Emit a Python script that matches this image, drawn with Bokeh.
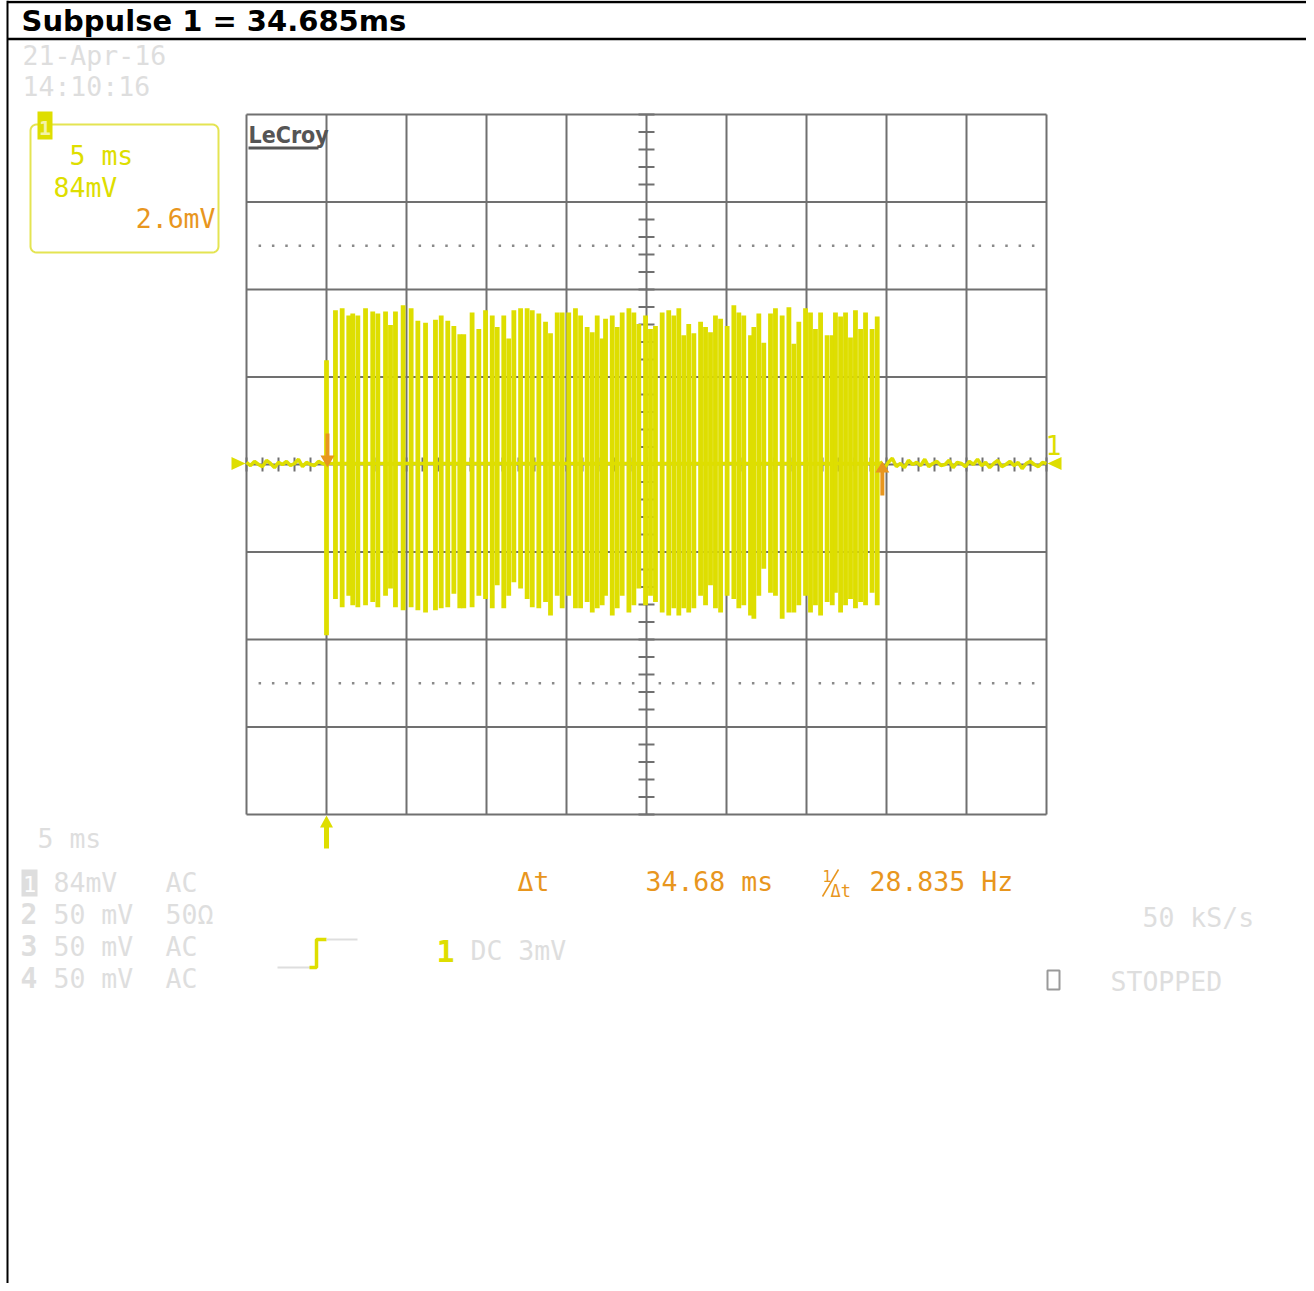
import numpy as np
from bokeh.plotting import figure
from bokeh.models import Range1d
from bokeh.core.properties import value
from bokeh.embed import file_html
from bokeh.resources import INLINE

# ---------------- labels ----------------
title_text = "Subpulse 1 = 34.685ms"
date_text = "21-Apr-16"
time_text = "14:10:16"
timebase_text = "5 ms"
ch1_scale_text = "84mV"
ch1_offset_text = "2.6mV"
chan_numbers = ["2", "3", "4"]
chan_scales = ["84mV", "50 mV", "50 mV", "50 mV"]
chan_coupling = ["AC", "50Ω", "AC", "AC"]
delta_t_label = "Δt"
delta_t_text = "34.68 ms"
freq_text = "28.835 Hz"
trig_source = "1"
trig_text = "DC 3mV"
rate_text = "50 kS/s"
status_text = "STOPPED"

# ---------------- grid: 5 ms/div, 84 mV/div ----------------
grid_t = [-5, 0, 5, 10, 15, 20, 25, 30, 35, 40, 45]
grid_v = [-336, -252, -168, -84, 0, 84, 168, 252, 336]
marker_v = [210, -210]

# ---------------- waveform (ms, mV) ----------------
burst_t = [0.0, 0.56, 0.98, 1.39, 1.64, 1.96, 2.44, 2.89, 3.21, 3.69, 4.0, 4.31, 4.79, 5.29, 5.71,
           6.19, 6.81, 7.17, 7.58, 7.96, 8.33,
           8.58, 9.1, 9.52, 9.94, 10.36, 10.67, 11.08, 11.39, 11.71, 12.13, 12.54, 12.86, 13.27,
           13.69, 14.0, 14.42, 14.73, 15.14, 15.56, 15.88, 16.29, 16.61, 16.92, 17.23,
           17.44, 17.86, 18.17, 18.48, 18.9, 19.21, 19.52, 19.94, 20.25, 20.56, 20.98, 21.39,
           21.71, 22.02, 22.33, 22.64, 22.96, 23.38, 23.69, 24.0, 24.31, 24.63, 25.04, 25.46,
           25.77, 26.08,
           26.5, 26.71, 27.02, 27.33, 27.75, 28.06, 28.48, 28.9, 29.21, 29.52, 29.94, 30.25,
           30.56, 30.88, 31.29, 31.61, 31.81, 32.13, 32.44, 32.75, 33.06, 33.38, 33.69, 34.1, 34.42]
burst_top = [100, 148, 150, 143, 145, 143, 150, 147, 145, 147, 134, 147, 153, 150, 138,
             136, 139, 143, 138, 133, 125,
             125, 146, 130, 148, 143, 132, 143, 121, 148, 150, 150, 148, 145,
             137, 126, 146, 146, 146, 150, 143, 132, 127, 143, 121,
             140, 143, 132, 146, 150, 146, 135, 143, 130, 133, 146, 148,
             143, 150, 124, 135, 126, 137, 132, 127, 143, 140, 133, 153,
             146, 143,
             124, 132, 145, 117, 145, 150, 143, 151, 116, 137, 150, 146,
             130, 146, 124, 124, 146, 142, 146, 122, 148, 130, 146, 130, 142]
burst_bot = [-164, -129, -137, -126, -135, -137, -135, -132, -137, -126, -119, -137, -140, -137, -140,
             -142, -140, -138, -137, -124, -138,
             -138, -137, -126, -129, -138, -116, -138, -126, -113, -119, -129, -137, -138,
             -132, -145, -126, -138, -126, -138, -138, -132, -142, -138, -135,
             -126, -145, -138, -126, -142, -135, -119, -135, -126, -132, -142, -145,
             -138, -145, -138, -142, -138, -126, -135, -116, -138, -142, -126, -129,
             -138, -135,
             -145, -148, -126, -100, -123, -126, -148, -142, -142, -135, -126, -142,
             -135, -145, -132, -135, -123, -142, -135, -129, -138, -132, -135, -123, -135]
pre_noise = [2, -1, 3, 0, -2, 4, 1, -3, 2, 0, 3, -1, 1, 5, -2, 2, 0, -1, 3, 1, 0]
post_noise = [3, -4, 2, 6, -2, 1, -3, 4, 0, 2, -1, 5, -2, 1, 3, -1, 0, 4, -3, 2, 1,
              -2, 3, 0, 5, -1, 2, -3, 1, 4, -2, 0, 3, -1, 2, -4, 1, 3, 0, -2, 2, 1]
trigger_t = 0.0
cursor1_t = 0.06
cursor2_t = 34.74
burst_end_t = 34.6

# ---------------- colours ----------------
YEL = "#dede00"
YEL_BOX = "#e4e452"
ORANGE = "#e8961e"
LGRAY = "#dedede"
GRID = "#707070"
LOGO = "#555555"
MONO = "DejaVu Sans Mono"

# ---------------- page geometry ----------------
W, H = 1306, 1283
GX0, PX_PER_MS = 246.0, 16.0
GY0, PX_PER_MV = 464.0, 87.5 / 84.0


def tx(px):
    return (px - GX0) / PX_PER_MS - 5.0


def vy(py):
    return (GY0 - py) / PX_PER_MV


def dms(px):
    return px / PX_PER_MS


def dmv(px):
    return px / PX_PER_MV


p = figure(width=W, height=H, output_backend="svg", toolbar_location=None, title=None,
           x_range=Range1d(tx(0), tx(W)), y_range=Range1d(vy(H), vy(0)),
           x_axis_location=None, y_axis_location=None, min_border=0,
           outline_line_color=None, background_fill_color="white", border_fill_color="white")
p.xgrid.visible = False
p.ygrid.visible = False


# ---------------- text helpers ----------------
def txt(px, pybase, s, color, size=26.5, align="left", font=MONO, style="normal"):
    # baseline correction for the SVG text placement
    yb = pybase - 0.38 * size
    p.text(x=[tx(px)], y=[vy(yb)], text=[s], text_color=color, text_font=value(font),
           text_font_size=f"{size}px", text_align=align, text_baseline="alphabetic",
           text_font_style=style)


def rrect(x0, y0, x1, y1, r):
    xs, ys = [], []
    corners = [(x1 - r, y0 + r, -90, 0), (x1 - r, y1 - r, 0, 90),
               (x0 + r, y1 - r, 90, 180), (x0 + r, y0 + r, 180, 270)]
    for cx, cy, a0, a1 in corners:
        for a in np.linspace(np.radians(a0), np.radians(a1), 6):
            xs.append(tx(cx + r * np.cos(a)))
            ys.append(vy(cy + r * np.sin(a)))
    return xs, ys


# ---------------- frame of the page ----------------
p.segment(x0=[tx(7)], y0=[vy(0)], x1=[tx(7)], y1=[vy(H)], line_color="black", line_width=2)
p.segment(x0=[tx(7), tx(7)], y0=[vy(1.5), vy(38.5)], x1=[tx(W), tx(W)], y1=[vy(1.5), vy(38.5)],
          line_color="black", line_width=2.5)

# title
txt(21, 32, title_text, "black", size=29, font="DejaVu Sans", style="bold")

# ---------------- scope grid ----------------
nt, nv = len(grid_t), len(grid_v)
p.segment(x0=grid_t, y0=[grid_v[0]] * nt, x1=grid_t, y1=[grid_v[-1]] * nt,
          line_color=GRID, line_width=2)
p.segment(x0=[grid_t[0]] * nv, y0=grid_v, x1=[grid_t[-1]] * nv, y1=grid_v,
          line_color=GRID, line_width=2)

# centre axis ticks
t_c = grid_t[nt // 2]
v_step = (grid_v[1] - grid_v[0]) / 5.0
minor_v = np.arange(grid_v[0], grid_v[-1] + 0.1, v_step)
p.segment(x0=t_c - dms(8), x1=t_c + dms(8), y0=minor_v, y1=minor_v, line_color=GRID, line_width=2)
t_step = (grid_t[1] - grid_t[0]) / 5.0
minor_t = np.arange(grid_t[0], grid_t[-1] + 0.01, t_step)
p.segment(x0=minor_t, x1=minor_t, y0=-dmv(7), y1=dmv(7), line_color=GRID, line_width=2)

# dotted marker lines
dot_t = []
for a in grid_t[:-1]:
    for k in range(1, 6):
        dot_t.append(a + k * (grid_t[1] - grid_t[0]) / 6.0)
for mv in marker_v:
    p.scatter(x=dot_t, y=[mv] * len(dot_t), marker="square", size=2.5,
              fill_color="#8a8a8a", line_color=None)

# ---------------- waveform ----------------
pre_t = np.linspace(grid_t[0], trigger_t, len(pre_noise))
post_t = np.linspace(burst_end_t, grid_t[-1], len(post_noise))
p.line(pre_t, pre_noise, line_color=YEL, line_width=3.5)
p.line(post_t, post_noise, line_color=YEL, line_width=3.5)
p.line([trigger_t, burst_end_t], [1, 1], line_color=YEL, line_width=3.5)
p.vbar(x=burst_t, width=0.3, top=burst_top, bottom=burst_bot, fill_color=YEL, line_color=None)

# level markers (triangles)
p.patch([tx(231), tx(231), tx(245)], [vy(456.5), vy(469.5), vy(463)], fill_color=YEL, line_color=None)
p.patch([tx(1061), tx(1061), tx(1047)], [vy(456.5), vy(469.5), vy(463)], fill_color=YEL, line_color=None)
txt(1053, 455, "1", YEL, align="center")

# cursors (orange arrows)
c1 = cursor1_t
p.patch([c1 - dms(2), c1 + dms(2), c1 + dms(2), c1 + dms(7), c1, c1 - dms(7), c1 - dms(2)],
        [vy(433), vy(433), vy(455), vy(455), vy(467), vy(455), vy(455)],
        fill_color=ORANGE, line_color=None)
c2 = cursor2_t
p.patch([c2 - dms(2), c2 + dms(2), c2 + dms(2), c2 + dms(7), c2, c2 - dms(7), c2 - dms(2)],
        [vy(495), vy(495), vy(472), vy(472), vy(461), vy(472), vy(472)],
        fill_color=ORANGE, line_color=None)

# trigger position arrow
tt = trigger_t
p.patch([tt - dms(2.5), tt + dms(2.5), tt + dms(2.5), tt + dms(6.5), tt, tt - dms(6.5), tt - dms(2.5)],
        [vy(848), vy(848), vy(827), vy(827), vy(815), vy(827), vy(827)],
        fill_color=YEL, line_color=None)

# date / time
txt(22, 65, date_text, LGRAY)
txt(22, 96, time_text, LGRAY)

# channel box
bx, by = rrect(30, 124, 218, 252, 6)
p.patch(bx, by, fill_color=None, line_color=YEL_BOX, line_width=2)
p.quad(left=[tx(37)], right=[tx(52)], top=[vy(111)], bottom=[vy(139)], fill_color=YEL, line_color=None)
txt(44.5, 135, "1", "#f3f3a8", size=20, align="center", style="bold")
txt(69, 165, timebase_text, YEL)
txt(53, 197, ch1_scale_text, YEL)
txt(215, 228, ch1_offset_text, ORANGE, align="right")

# LeCroy logo
txt(248, 143, "LeCroy", LOGO, size=23, font="DejaVu Sans Condensed, Liberation Sans", style="bold")
p.segment(x0=[tx(248)], y0=[vy(147.5)], x1=[tx(318)], y1=[vy(147.5)], line_color=LOGO, line_width=3)

# bottom information
txt(37, 848, timebase_text, LGRAY)
p.quad(left=[tx(21)], right=[tx(37)], top=[vy(869)], bottom=[vy(896)], fill_color=LGRAY, line_color=None)
txt(29, 892, "1", "white", size=22, align="center")
for i, num in enumerate(chan_numbers):
    txt(20, 924 + 32 * i, num, LGRAY, size=28, style="bold")
for i in range(4):
    txt(53, 892 + 32 * i, chan_scales[i], LGRAY)
    txt(165, 892 + 32 * i, chan_coupling[i], LGRAY)

txt(517, 891, delta_t_label, ORANGE)
txt(645, 891, delta_t_text, ORANGE)
txt(822, 881, "1", ORANGE, size=15)
p.segment(x0=[tx(822)], y0=[vy(896)], x1=[tx(838)], y1=[vy(869)], line_color=ORANGE, line_width=1.5)
txt(830, 897, "Δt", ORANGE, size=17)
txt(869, 891, freq_text, ORANGE)

# trigger symbol
p.line([tx(277), tx(316)], [vy(967), vy(967)], line_color=LGRAY, line_width=2)
p.line([tx(309), tx(316), tx(316), tx(326)], [vy(967), vy(967), vy(939), vy(939)],
       line_color=YEL, line_width=3.5)
p.line([tx(326), tx(357)], [vy(939), vy(939)], line_color=LGRAY, line_width=2)
txt(436, 962, trig_source, YEL, size=30, style="bold")
txt(470, 960, trig_text, LGRAY)

txt(1142, 927, rate_text, LGRAY)
p.quad(left=[tx(1047)], right=[tx(1059)], top=[vy(970)], bottom=[vy(989)],
       fill_color=None, line_color="#9a9a9a", line_width=2)
txt(1110, 991, status_text, LGRAY)

open("out.html", "w").write(file_html(p, INLINE))
